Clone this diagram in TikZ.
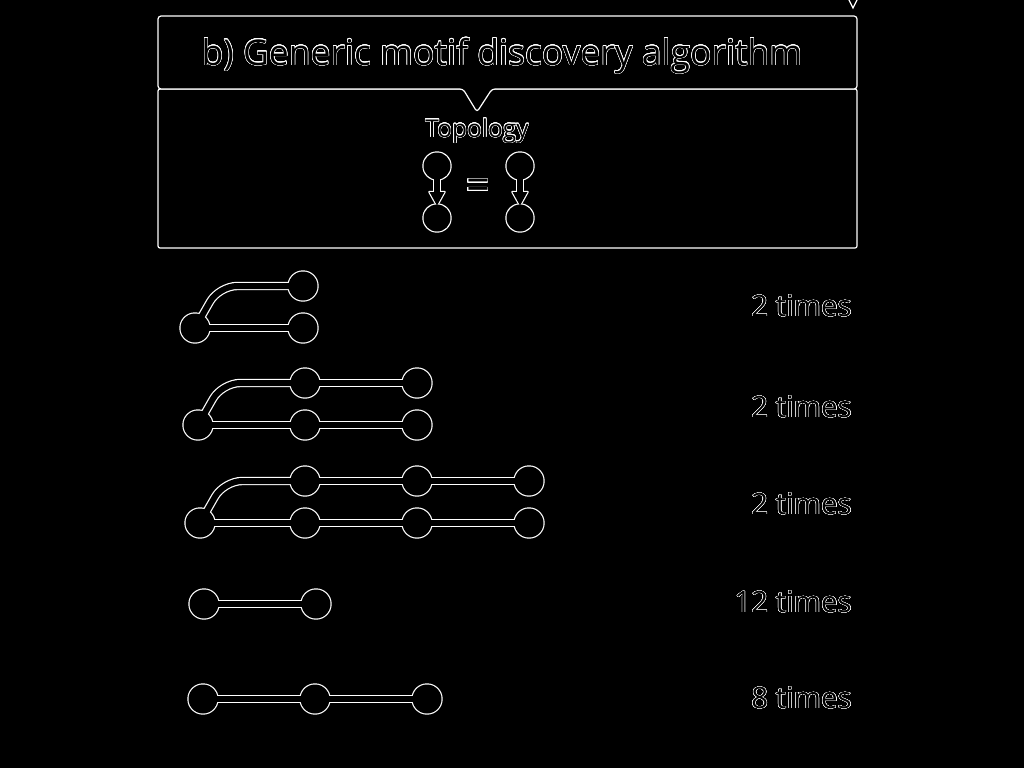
\documentclass[tikz,border=0pt]{standalone}
\usepackage{fontspec}
\setmainfont{Open Sans}
\usepackage{contour}
\contourlength{0.45pt}
\contournumber{24}
\usetikzlibrary{calc}
\pgfdeclarelayer{halo}
\pgfsetlayers{halo,main}

% outlined lettering: white rim, black body
\newcommand\outl[1]{\contour{white}{#1}}

% a vertex: black core on the main layer, white rim on the halo layer
\newcommand\vtx[4]{%
  \node[#1] (#2) at (#3) {};
  \begin{pgfonlayer}{halo}\fill[white] (#2.center) circle (#4);\end{pgfonlayer}}

% a band between vertices, drawn as rim plus core
\newcommand\link[1]{%
  \begin{pgfonlayer}{halo}\draw[haloband] #1;\end{pgfonlayer}
  \draw[band] #1;}

% a hollow arrow from one vertex down to the next
\newcommand\arrowlink[2]{%
  \begin{pgfonlayer}{halo}
    \draw[white, line width=8.4pt] (#1.center) -- ($(#1.center)+(0,27)$);
    \filldraw[white, line width=2.4pt, line join=round]
      ($(#1.center)+(-7.5,26)$) -- ($(#1.center)+(7.5,26)$) -- ($(#2.center)+(0,-12.5)$) -- cycle;
  \end{pgfonlayer}
  \draw[black, line width=6pt] (#1.center) -- ($(#1.center)+(0,27)$);
  \fill[black]
    ($(#1.center)+(-7.5,26)$) -- ($(#1.center)+(7.5,26)$) -- ($(#2.center)+(0,-12.5)$) -- cycle;}

\begin{document}
\begin{tikzpicture}[x=1pt, y=-1pt,
  vert/.style={circle, fill=black, draw=none, inner sep=0pt, minimum size=29pt},
  svert/.style={circle, fill=black, draw=none, inner sep=0pt, minimum size=27pt},
  band/.style={black, line width=6pt},
  haloband/.style={white, line width=8.4pt},
  boxline/.style={white, line width=1.2pt},
  txt/.style={inner sep=0pt, text=black},
  title/.style={txt, font=\fontsize{35.5}{40}\selectfont},
  topo/.style={txt, font=\fontsize{24.5}{28}\selectfont},
  count/.style={txt, font=\fontsize{29.5}{36}\selectfont, anchor=east}]
\useasboundingbox (0,0) rectangle (1024,768);

\begin{pgfonlayer}{halo}
  \fill[black] (0,0) rectangle (1024,768);
  % lower panel and the heading callout above it
  \draw[boxline, rounded corners=2pt] (158,89) rectangle (857,248);
  \draw[boxline, fill=black, rounded corners=3pt]
    (158,16) -- (857,16) -- (857,89) -- (492,89) -- (477,112) -- (463,89) -- (158,89) -- cycle;
  % pointer of the panel above
  \draw[boxline] (848,-2) -- (853,8) -- (858,-2);
\end{pgfonlayer}

\node[title, anchor=base] (ttl) at (502,65) {\outl{b) Generic motif discovery algorithm}};
\node[topo, anchor=base] (topo) at (477,137) {\outl{Topology}};

% topology: two equal edges
\vtx{svert}{t1}{437,166}{14.7pt}
\vtx{svert}{t2}{437,218}{14.7pt}
\vtx{svert}{u1}{520,166}{14.7pt}
\vtx{svert}{u2}{520,218}{14.7pt}
\arrowlink{t1}{t2}
\arrowlink{u1}{u2}
\node[txt, font=\fontsize{42}{46}\selectfont] (eq) at (478,190) {\outl{=}};

% motif 1
\vtx{vert}{a1}{303,286}{15.7pt}
\vtx{vert}{a2}{195,328}{15.7pt}
\vtx{vert}{a3}{303,328}{15.7pt}
\link{(a2.center) [rounded corners=18pt] -- ($(a2.center |- a1.center)+(24,0)$) -- (a1.center)}
\link{(a2.center) -- (a3.center)}

% motif 2
\vtx{vert}{b1}{305,383}{15.7pt}
\vtx{vert}{b2}{417,383}{15.7pt}
\vtx{vert}{b3}{198,425}{15.7pt}
\vtx{vert}{b4}{305,425}{15.7pt}
\vtx{vert}{b5}{417,425}{15.7pt}
\link{(b3.center) [rounded corners=18pt] -- ($(b3.center |- b1.center)+(24,0)$) -- (b1.center)}
\link{(b1.center) -- (b2.center)}
\link{(b3.center) -- (b4.center)}
\link{(b4.center) -- (b5.center)}

% motif 3
\vtx{vert}{c1}{305,481}{15.7pt}
\vtx{vert}{c2}{417,481}{15.7pt}
\vtx{vert}{c3}{529,481}{15.7pt}
\vtx{vert}{c4}{200,523}{15.7pt}
\vtx{vert}{c5}{305,523}{15.7pt}
\vtx{vert}{c6}{417,523}{15.7pt}
\vtx{vert}{c7}{529,523}{15.7pt}
\link{(c4.center) [rounded corners=18pt] -- ($(c4.center |- c1.center)+(24,0)$) -- (c1.center)}
\link{(c1.center) -- (c2.center)}
\link{(c2.center) -- (c3.center)}
\link{(c4.center) -- (c5.center)}
\link{(c5.center) -- (c6.center)}
\link{(c6.center) -- (c7.center)}

% motif 4
\vtx{vert}{d1}{204,604}{15.7pt}
\vtx{vert}{d2}{316,604}{15.7pt}
\link{(d1.center) -- (d2.center)}

% motif 5
\vtx{vert}{e1}{203,699}{15.7pt}
\vtx{vert}{e2}{315,699}{15.7pt}
\vtx{vert}{e3}{427,699}{15.7pt}
\link{(e1.center) -- (e2.center)}
\link{(e2.center) -- (e3.center)}

% occurrence counts
\node[count] (n1) at (852,306) {\outl{2 times}};
\node[count] (n2) at (852,407) {\outl{2 times}};
\node[count] (n3) at (852,504) {\outl{2 times}};
\node[count] (n4) at (852,602) {\outl{12 times}};
\node[count] (n5) at (852,698) {\outl{8 times}};
\end{tikzpicture}
\end{document}
